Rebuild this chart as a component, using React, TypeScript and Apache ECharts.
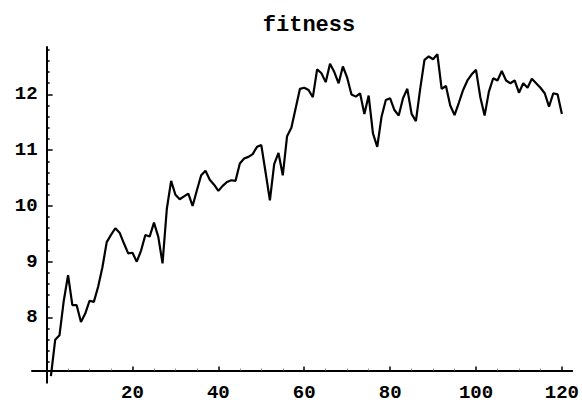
import React, { useEffect, useRef } from "react";
import * as echarts from "echarts";

const generation = [
  1, 2, 3, 4, 5, 6, 7, 8, 9, 10, 11, 12, 13, 14, 15, 16, 17, 18, 19, 20,
  21, 22, 23, 24, 25, 26, 27, 28, 29, 30, 31, 32, 33, 34, 35, 36, 37, 38, 39, 40,
  41, 42, 43, 44, 45, 46, 47, 48, 49, 50, 51, 52, 53, 54, 55, 56, 57, 58, 59, 60,
  61, 62, 63, 64, 65, 66, 67, 68, 69, 70, 71, 72, 73, 74, 75, 76, 77, 78, 79, 80,
  81, 82, 83, 84, 85, 86, 87, 88, 89, 90, 91, 92, 93, 94, 95, 96, 97, 98, 99, 100,
  101, 102, 103, 104, 105, 106, 107, 108, 109, 110, 111, 112, 113, 114, 115, 116, 117, 118, 119, 120,
];

const fitness = [
  6.95, 7.6, 7.68, 8.3, 8.76, 8.22, 8.22, 7.92, 8.07, 8.3,
  8.28, 8.55, 8.9, 9.35, 9.48, 9.6, 9.52, 9.33, 9.15, 9.16,
  9.0, 9.2, 9.48, 9.45, 9.7, 9.45, 8.97, 9.95, 10.45, 10.2,
  10.12, 10.17, 10.22, 10.0, 10.28, 10.55, 10.63, 10.47, 10.38, 10.27,
  10.36, 10.43, 10.46, 10.45, 10.76, 10.85, 10.88, 10.93, 11.06, 11.09,
  10.6, 10.1, 10.75, 10.95, 10.55, 11.25, 11.4, 11.75, 12.1, 12.12,
  12.08, 11.95, 12.45, 12.38, 12.22, 12.55, 12.4, 12.2, 12.5, 12.3,
  12.0, 11.96, 12.02, 11.65, 11.98, 11.3, 11.06, 11.6, 11.9, 11.93,
  11.72, 11.62, 11.93, 12.1, 11.65, 11.52, 12.1, 12.62, 12.68, 12.63,
  12.72, 12.1, 12.15, 11.8, 11.63, 11.85, 12.08, 12.25, 12.36, 12.44,
  11.95, 11.62, 12.05, 12.29, 12.25, 12.42, 12.25, 12.2, 12.25, 12.03,
  12.2, 12.12, 12.28, 12.2, 12.12, 12.02, 11.78, 12.02, 12.0, 11.65,
];

const xTickValues = [20, 40, 60, 80, 100, 120];
const xMinorTickValues = [5, 10, 15, 25, 30, 35, 45, 50, 55, 65, 70, 75, 85, 90, 95, 105, 110, 115];
const yTickValues = [8, 9, 10, 11, 12];
const yMinorTickValues = [
  7.2, 7.4, 7.6, 7.8, 8.2, 8.4, 8.6, 8.8, 9.2, 9.4, 9.6, 9.8,
  10.2, 10.4, 10.6, 10.8, 11.2, 11.4, 11.6, 11.8, 12.2, 12.4, 12.6, 12.8,
];

const TITLE = "fitness";

const W = 582;
const H = 407;
const GRID = { left: 32, right: 9, top: 47, bottom: 24.3 };
const XMIN = -3.4;
const XMAX = 122.4;
const YMIN = 6.83;
const YMAX = 12.85;
const X_ORIGIN = 0;
const Y_ORIGIN = 7.05;
const FONT = "'Liberation Mono', 'DejaVu Sans Mono', monospace";

export default function App() {
  const ref = useRef<HTMLDivElement>(null);

  useEffect(() => {
    if (!ref.current) return;
    const chart = echarts.init(ref.current, undefined, { renderer: "svg" });
    const gridW = W - GRID.left - GRID.right;
    const gridH = H - GRID.top - GRID.bottom;
    const yAxisOffset = -((X_ORIGIN - XMIN) / (XMAX - XMIN)) * gridW;
    const xAxisOffset = -((Y_ORIGIN - YMIN) / (YMAX - YMIN)) * gridH;

    const labelStyle = {
      fontFamily: FONT,
      fontWeight: "bold" as const,
      fontSize: 19,
      color: "#000",
    };

    const option: any = {
      animation: false,
      backgroundColor: "#fff",
      title: {
        text: TITLE,
        left: 304,
        top: 9,
        textAlign: "center",
        textStyle: { fontFamily: FONT, fontWeight: "bold", fontSize: 22, color: "#000" },
      },
      grid: { ...GRID, containLabel: false },
      xAxis: [
        {
          type: "value",
          min: XMIN,
          max: XMAX,
          position: "bottom",
          offset: xAxisOffset,
          axisLine: { show: true, onZero: false, lineStyle: { color: "#000", width: 2 } },
          axisTick: { show: true, inside: true, length: 4, customValues: xTickValues, lineStyle: { color: "#000", width: 1.5 } },
          axisLabel: { show: true, customValues: xTickValues, margin: 13, ...labelStyle },
          splitLine: { show: false },
        },
        {
          type: "value",
          min: XMIN,
          max: XMAX,
          position: "bottom",
          offset: xAxisOffset,
          axisLine: { show: false, onZero: false },
          axisTick: { show: true, inside: true, length: 2, customValues: xMinorTickValues, lineStyle: { color: "#999", width: 1 } },
          axisLabel: { show: false },
          splitLine: { show: false },
        },
      ],
      yAxis: [
        {
          type: "value",
          min: YMIN,
          max: YMAX,
          position: "left",
          offset: yAxisOffset,
          axisLine: { show: true, onZero: false, lineStyle: { color: "#000", width: 2 } },
          axisTick: { show: true, inside: true, length: 6, customValues: yTickValues, lineStyle: { color: "#000", width: 1.5 } },
          axisLabel: { show: true, customValues: yTickValues, margin: 9, ...labelStyle },
          splitLine: { show: false },
        },
        {
          type: "value",
          min: YMIN,
          max: YMAX,
          position: "left",
          offset: yAxisOffset,
          axisLine: { show: false, onZero: false },
          axisTick: { show: true, inside: true, length: 3, customValues: yMinorTickValues, lineStyle: { color: "#000", width: 1.5 } },
          axisLabel: { show: false },
          splitLine: { show: false },
        },
      ],
      series: [
        {
          type: "line",
          name: TITLE,
          xAxisIndex: 0,
          yAxisIndex: 0,
          showSymbol: false,
          symbol: "none",
          lineStyle: { color: "#000", width: 2.2 },
          data: generation.map((g, i) => [g, fitness[i]]),
        },
      ],
    };
    chart.setOption(option);
    return () => chart.dispose();
  }, []);

  return (
    <div
      ref={ref}
      style={{ position: "fixed", left: 0, top: 0, width: W, height: H, background: "#fff" }}
    />
  );
}
